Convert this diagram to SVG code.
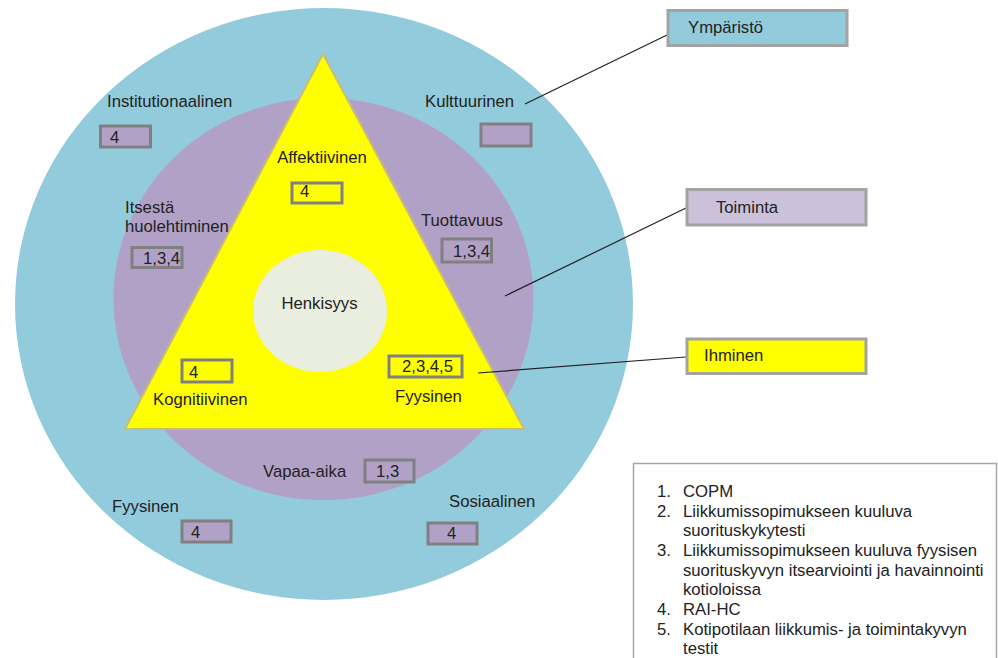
<svg xmlns="http://www.w3.org/2000/svg" width="998" height="658" viewBox="0 0 998 658">
<style>
text{font-family:"Liberation Sans",Arial,sans-serif;font-size:16.7px;fill:#222}
.sb{stroke:#808080;stroke-width:3}
.p{fill:#b2a1c7}
.y{fill:#ffff00}
.rb{stroke:#a3a3a3;stroke-width:3}
.ln{stroke:#222;stroke-width:1.2;fill:none}
</style>
<rect width="998" height="658" fill="#fff"/>
<g id="ymparisto-ring"><ellipse cx="324" cy="304" rx="309" ry="296" fill="#92cbdc"/></g>
<g id="toiminta-ring"><ellipse cx="323.5" cy="299" rx="210" ry="201" fill="#b2a1c7"/></g>
<g id="ihminen-triangle"><polygon points="323,54 125,429 524,429" fill="#ffff00" stroke="#c9bd72" stroke-width="2"/></g>
<g id="henkisyys"><ellipse cx="320" cy="311" rx="67" ry="61" fill="#e9eedf"/><text x="319.5" y="309" text-anchor="middle">Henkisyys</text></g>

<g id="connectors">
<line class="ln" x1="525" y1="104" x2="667" y2="35"/>
<line class="ln" x1="505" y1="296" x2="686" y2="208"/>
<line class="ln" x1="478" y1="373" x2="686" y2="357"/>
</g>

<g id="institutionaalinen"><text x="107" y="107">Institutionaalinen</text><rect class="sb p" x="100.5" y="126" width="50" height="21"/><text x="110" y="143">4</text></g>
<g id="kulttuurinen"><text x="425" y="107">Kulttuurinen</text><rect class="sb p" x="481" y="124" width="50" height="22"/></g>
<g id="itsesta"><text x="125" y="213">Itsestä</text><text x="125" y="232">huolehtiminen</text><rect class="sb p" x="132" y="247.5" width="50" height="20"/><text x="143" y="264">1,3,4</text></g>
<g id="tuottavuus"><text x="421" y="226">Tuottavuus</text><rect class="sb p" x="442" y="239" width="49.5" height="23"/><text x="453" y="257">1,3,4</text></g>
<g id="affektiivinen"><text x="322" y="163" text-anchor="middle">Affektiivinen</text><rect class="sb y" x="292" y="183" width="50" height="20"/><text x="300" y="197">4</text></g>
<g id="kognitiivinen"><rect class="sb y" x="182" y="360" width="50" height="22"/><text x="189" y="378">4</text><text x="153" y="405">Kognitiivinen</text></g>
<g id="fyysinen-inner"><rect class="sb y" x="389" y="356" width="73" height="21"/><text x="402" y="372">2,3,4,5</text><text x="395" y="402">Fyysinen</text></g>
<g id="vapaa-aika"><text x="263" y="477">Vapaa-aika</text><rect class="sb p" x="365" y="460" width="49" height="22"/><text x="376" y="477">1,3</text></g>
<g id="fyysinen-outer"><text x="112" y="512">Fyysinen</text><rect class="sb p" x="182" y="521" width="49" height="21"/><text x="191" y="538">4</text></g>
<g id="sosiaalinen"><text x="449" y="507">Sosiaalinen</text><rect class="sb p" x="428" y="523" width="49" height="21"/><text x="447" y="539">4</text></g>

<g id="label-ymparisto"><rect class="rb" x="668" y="10.5" width="179" height="35" fill="#92cbdc"/><text x="688" y="33">Ympäristö</text></g>
<g id="label-toiminta"><rect class="rb" x="687" y="189.5" width="179" height="35.5" fill="#ccc1da"/><text x="716" y="213">Toiminta</text></g>
<g id="label-ihminen"><rect class="rb" x="687" y="339" width="179" height="34.5" fill="#ffff00"/><text x="704" y="361">Ihminen</text></g>

<g id="legend">
<rect x="633.5" y="463.5" width="363" height="200" fill="#fff" stroke="#a6a6a6" stroke-width="1.5"/>
<text x="657" y="497">1.</text><text x="683" y="497">COPM</text>
<text x="657" y="516.5">2.</text><text x="683" y="516.5">Liikkumissopimukseen kuuluva</text>
<text x="683" y="536">suorituskykytesti</text>
<text x="657" y="556">3.</text><text x="683" y="556">Liikkumissopimukseen kuuluva fyysisen</text>
<text x="683" y="575.5">suorituskyvyn itsearviointi ja havainnointi</text>
<text x="683" y="595">kotioloissa</text>
<text x="657" y="615">4.</text><text x="683" y="615">RAI-HC</text>
<text x="657" y="634.5">5.</text><text x="683" y="634.5">Kotipotilaan liikkumis- ja toimintakyvyn</text>
<text x="683" y="654">testit</text>
</g>
</svg>
